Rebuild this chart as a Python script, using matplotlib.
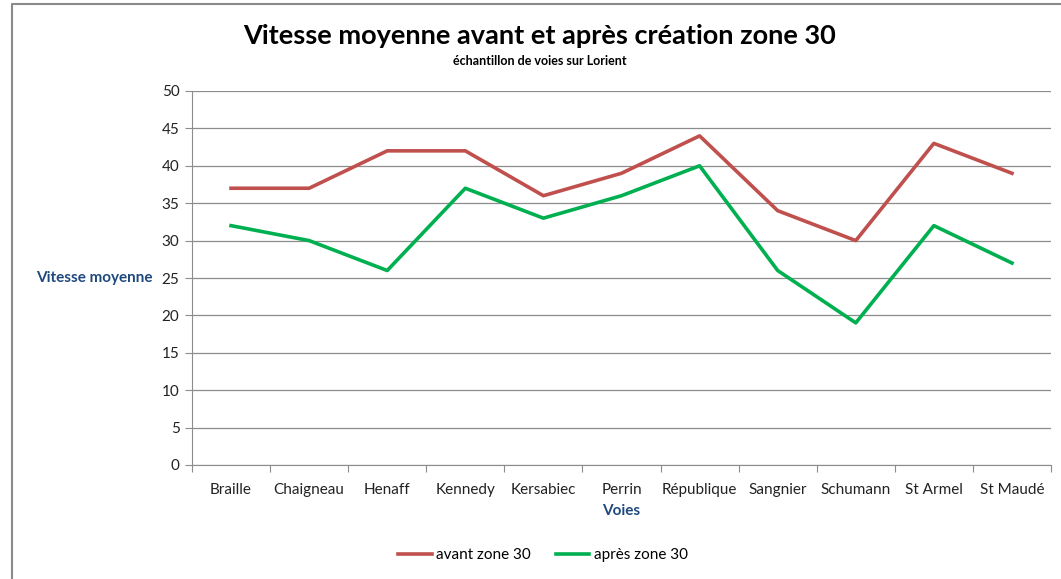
import matplotlib.pyplot as plt
from matplotlib.lines import Line2D

voies = ['Braille', 'Chaigneau', 'Henaff', 'Kennedy', 'Kersabiec', 'Perrin',
         'République', 'Sangnier', 'Schumann', 'St Armel', 'St Maudé']
avant = [37, 37, 42, 42, 36, 39, 44, 34, 30, 43, 39]
apres = [32, 30, 26, 37, 33, 36, 40, 26, 19, 32, 27]
yticks = list(range(0, 55, 5))

plt.rcParams['font.family'] = ['Lato', 'DejaVu Sans']

fig = plt.figure(figsize=(10.61, 5.79), dpi=100)
ax = fig.add_axes([192/1061, 1 - 465/579, (1051 - 192)/1061, (465 - 91)/579])

x = list(range(len(voies)))
ax.plot(x, avant, color='#C0504D', lw=2.6, label='avant zone 30')
ax.plot(x, apres, color='#00B050', lw=2.6, label='après zone 30')

ax.set_xlim(-0.5, len(voies) - 0.5)
ax.set_ylim(0, 50)
ax.set_yticks(yticks)
ax.yaxis.grid(True, color='#8C8C8C', lw=0.9)
ax.set_axisbelow(True)
ax.set_xticks([i - 0.5 for i in range(len(voies) + 1)])
ax.set_xticklabels([])
ax.set_xticks(x, minor=True)
ax.set_xticklabels(voies, minor=True, fontsize=11, color='#222222')
ax.tick_params(axis='x', which='minor', length=0, pad=13)
ax.tick_params(axis='x', which='major', length=5, color='#8C8C8C', direction='out')
ax.tick_params(axis='y', length=5, color='#8C8C8C', labelsize=11, labelcolor='#222222', pad=4)

for s in ['top', 'right']:
    ax.spines[s].set_visible(False)
for s in ['left', 'bottom']:
    ax.spines[s].set_color('#8C8C8C')

fig.text(153/1061, 1 - 278/579, 'Vitesse moyenne', ha='right', va='center',
         fontsize=11, fontweight='bold', color='#1F497D')
fig.text(621/1061, 1 - 511/579, 'Voies', ha='center', va='center',
         fontsize=11, fontweight='bold', color='#1F497D')

fig.text(540/1061, 1 - 36/579, 'Vitesse moyenne avant et après création zone 30',
         ha='center', va='center', fontsize=19.5, fontweight='bold', color='black')
fig.text(540/1061, 1 - 61/579, 'échantillon de voies sur Lorient',
         ha='center', va='center', fontsize=9, fontweight='bold', color='black')

handles = [Line2D([], [], color='#C0504D', lw=2.6), Line2D([], [], color='#00B050', lw=2.6)]
fig.legend(handles, ['avant zone 30', 'après zone 30'], loc='center',
           bbox_to_anchor=(543/1061, 1 - 555/579), ncol=2, frameon=False,
           fontsize=11, handlelength=2.2, handletextpad=0.3, columnspacing=1.6)

# chart border (top and left visible)
fig.add_artist(Line2D([12/1061, 12/1061, 1], [0, 1 - 4/579, 1 - 4/579],
                      transform=fig.transFigure, color='#8A8A8A', lw=1.5))

fig.savefig('out.png', dpi=100)
